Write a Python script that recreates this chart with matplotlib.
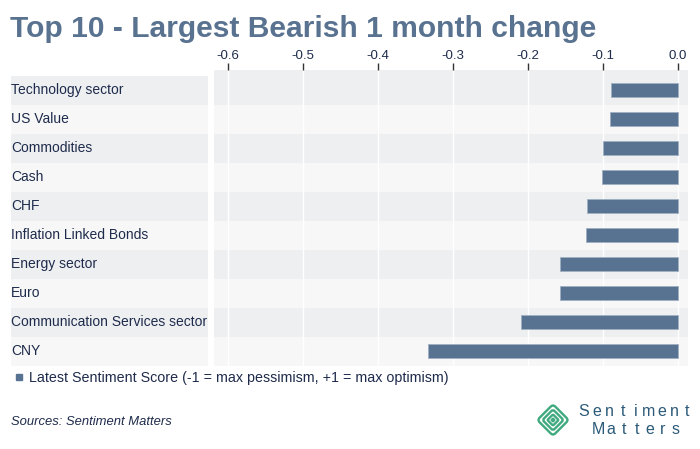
import numpy as np
import matplotlib.pyplot as plt
from matplotlib.patches import Rectangle, FancyBboxPatch
import matplotlib.transforms as mtransforms

plt.rcParams['font.family'] = ['Liberation Sans', 'DejaVu Sans']

# data
categories = ["Technology sector", "US Value", "Commodities", "Cash", "CHF",
              "Inflation Linked Bonds", "Energy sector", "Euro",
              "Communication Services sector", "CNY"]
scores = [-0.090, -0.091, -0.100, -0.101, -0.121, -0.123, -0.157, -0.158,
          -0.210, -0.333]
xticks = [-0.6, -0.5, -0.4, -0.3, -0.2, -0.1, 0.0]
xtick_labels = ["-0.6", "-0.5", "-0.4", "-0.3", "-0.2", "-0.1", "0.0"]

W, H = 700, 449
bar_col = "#587391"
band_dark = "#eeeff1"
band_light = "#f7f7f7"
text_col = "#1e2b4b"

fig = plt.figure(figsize=(W / 100, H / 100), dpi=100)
fig.patch.set_facecolor("white")

def px_box(x0, y0, x1, y1):
    # pixel box (top-left origin) -> figure fraction rect
    return [x0 / W, 1 - y1 / H, (x1 - x0) / W, (y1 - y0) / H]

n = len(categories)
ylim = (n - 1 + 15 / 29, -20 / 29)

# main plot
ax = fig.add_axes(px_box(214, 70, 688, 366))
ax.set_xlim(-0.6187, 0.01333)
ax.set_ylim(*ylim)
for i in range(n):
    lo = i - 0.5 if i > 0 else ylim[1]
    hi = i + 0.5 if i < n - 1 else ylim[0]
    ax.axhspan(lo, hi, color=band_dark if i % 2 == 0 else band_light, lw=0, zorder=0)
for t in xticks:
    ax.axvline(t, color="white", lw=1, zorder=1)
ax.barh(range(n), scores, height=0.48, color=bar_col, edgecolor="#9fb0c2",
        linewidth=0.6, zorder=2)
ax.xaxis.tick_top()
ax.set_xticks(xticks)
ax.set_xticklabels(xtick_labels)
ax.tick_params(axis="x", direction="out", length=5, width=1, color="#333333",
               labelsize=9.5, labelcolor=text_col, pad=0.5)
ax.set_yticks([])
for s in ax.spines.values():
    s.set_visible(False)

# label column
lax = fig.add_axes(px_box(11, 70, 208, 366))
lax.set_xlim(0, 1)
lax.set_ylim(*ylim)
for i in range(n):
    lax.axhspan(i - 0.5, i + 0.5, color=band_dark if i % 2 == 0 else band_light, lw=0)
    lax.text(0.0, i, categories[i], ha="left", va="center", fontsize=10,
             color=text_col)
lax.axis("off")

# title
fig.text(10 / W, 1 - 29 / H, "Top 10 - Largest Bearish 1 month change",
         fontsize=21.6, fontweight="bold", color="#587290", ha="left", va="center")

# legend
fig.patches.append(Rectangle((16 / W, 1 - 380 / H), 6 / W, 6 / H,
                             transform=fig.transFigure, color=bar_col))
fig.text(29 / W, 1 - 378 / H,
         "Latest Sentiment Score (-1 = max pessimism, +1 = max optimism)",
         fontsize=10.3, color=text_col, ha="left", va="center")

# source
fig.text(11 / W, 1 - 422 / H, "Sources: Sentiment Matters", fontsize=9.4,
         style="italic", color=text_col, ha="left", va="center")

# logo
lg = fig.add_axes(px_box(534, 401, 572, 439))
lg.set_xlim(-1.2, 1.2)
lg.set_ylim(-1.2, 1.2)
lg.axis("off")
green = "#3fa97f"
rot = mtransforms.Affine2D().rotate_deg(45) + lg.transData
for r, fill in [(0.70, False), (0.47, False), (0.25, False), (0.06, True)]:
    p = FancyBboxPatch((-r, -r), 2 * r, 2 * r,
                       boxstyle="round,pad=0,rounding_size=%.2f" % (r * 0.3),
                       fill=fill, facecolor=green, edgecolor=green, lw=1.7,
                       transform=rot)
    lg.add_patch(p)

logo_col = "#2b5a78"
for k, ch in enumerate("Sentiment"):
    fig.text((584 + k * 12.9) / W, 1 - 412 / H, ch, fontsize=11.5, color=logo_col,
             ha="center", va="center")
for k, ch in enumerate("Matters"):
    fig.text((598 + k * 13.0) / W, 1 - 430 / H, ch, fontsize=11.5, color=logo_col,
             ha="center", va="center")

fig.savefig("out.png", dpi=100)
